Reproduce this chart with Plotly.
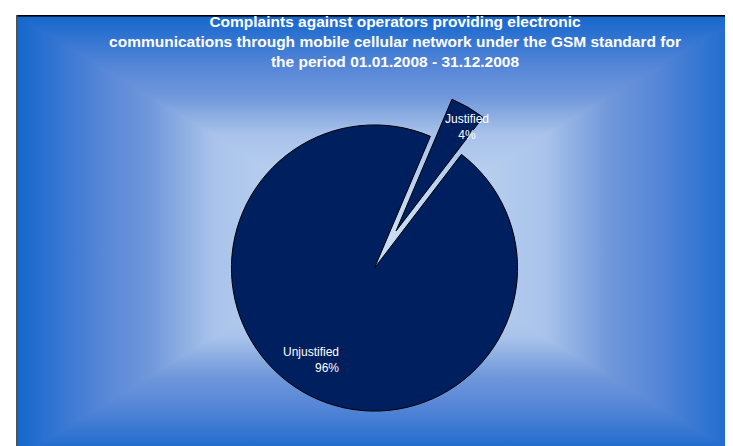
import base64
import math
import plotly.graph_objects as go

# ---- data ----
labels = ["Justified", "Unjustified"]
values = [4, 96]
title_lines = [
    "Complaints against operators providing electronic",
    "communications through mobile cellular network under the GSM standard for",
    "the period 01.01.2008 - 31.12.2008",
]

W, H = 733, 446
PULL = 0.3
ROT = 23  # degrees clockwise from 12 o'clock where first slice starts
SLICE = "#001F5E"
FONT = "Arial, Liberation Sans, sans-serif"

# ---- background (rectangular path gradient) as SVG ----
fx0, fy0 = 8, 7               # frame top-left in page px
vw, vh = W - fx0, H - fy0     # visible frame size
cx, cy = 363, 221             # gradient centre in frame coords
ex, ey = 728, 443             # virtual frame extent (goes beyond view)
stops = [(0, "#1466CC"), (0.25, "#5A88D8"), (0.37, "#7098DA"),
         (0.54, "#A8C2EA"), (0.8, "#C0D5F1"), (1.0, "#CADDF3")]

def grad(gid, x1, y1, x2, y2):
    s = "".join(f'<stop offset="{o}" stop-color="{c}"/>' for o, c in stops)
    return (f'<linearGradient id="{gid}" gradientUnits="userSpaceOnUse" '
            f'x1="{x1}" y1="{y1}" x2="{x2}" y2="{y2}">{s}</linearGradient>')

svg = (
    f'<svg xmlns="http://www.w3.org/2000/svg" width="{vw}" height="{vh}" '
    f'viewBox="0 0 {vw} {vh}" preserveAspectRatio="none">'
    "<defs>"
    + grad("t", 0, 0, 0, cy) + grad("b", 0, ey, 0, cy)
    + grad("l", 0, 0, cx, 0) + grad("r", ex, 0, cx, 0)
    + "</defs>"
    f'<rect x="0" y="0" width="{cx}" height="{vh}" fill="url(#l)"/>'
    f'<rect x="{cx}" y="0" width="{vw - cx}" height="{vh}" fill="url(#r)"/>'
    f'<polygon points="0,0 {ex},0 {cx},{cy}" fill="url(#t)"/>'
    f'<polygon points="0,{ey} {ex},{ey} {cx},{cy}" fill="url(#b)"/>'
    f'<rect x="0" y="0" width="{vw}" height="1.6" fill="#000000"/>'
    f'<rect x="0" y="0" width="1.6" height="{vh}" fill="#505050"/>'
    "</svg>"
)
svg_uri = "data:image/svg+xml;base64," + base64.b64encode(svg.encode()).decode()

# ---- pie geometry (domain) ----
half = 186
dom_y = [0, 2 * half / H]
pie_cx = W / 2
pie_cy = H - half
radius = half / (1 + PULL)

fig = go.Figure()
fig.add_trace(go.Pie(
    labels=labels,
    values=values,
    sort=False,
    direction="clockwise",
    rotation=ROT,
    pull=[PULL, 0],
    marker=dict(colors=[SLICE, SLICE], line=dict(color="#000000", width=1)),
    textinfo="none",
    hoverinfo="label+percent",
    showlegend=False,
    domain=dict(x=[0, 1], y=dom_y),
))

# slice labels, placed at each slice's mid-angle
total = sum(values)
start = ROT
label_r = [radius * (PULL + 0.98), radius * 0.88]
aligns = ["center", "right"]
for i, (lab, val) in enumerate(zip(labels, values)):
    span = 360 * val / total
    mid = math.radians(start + span / 2)
    start += span
    lx = pie_cx + label_r[i] * math.sin(mid)
    ly = pie_cy - label_r[i] * math.cos(mid)
    fig.add_annotation(
        x=lx / W, y=1 - ly / H, xref="paper", yref="paper",
        text=f"{lab}<br>{val / total:.0%}",
        showarrow=False, align=aligns[i],
        font=dict(family=FONT, size=12, color="#FFFFFF"),
    )

fig.add_layout_image(dict(
    source=svg_uri, xref="paper", yref="paper",
    x=fx0 / W, y=1 - fy0 / H, sizex=vw / W, sizey=vh / H,
    xanchor="left", yanchor="top", sizing="stretch", layer="below",
))

fig.update_layout(
    width=W, height=H,
    margin=dict(l=0, r=0, t=0, b=0),
    paper_bgcolor="#FFFFFF",
    plot_bgcolor="rgba(0,0,0,0)",
    title=dict(
        text="<b>" + "<br>".join(title_lines) + "</b>",
        x=387 / W, xanchor="center", y=1 - 19 / H, yanchor="top", yref="container",
        font=dict(family=FONT, size=15.5, color="#FFFFFF"),
    ),
)

fig.write_html("out.html")
